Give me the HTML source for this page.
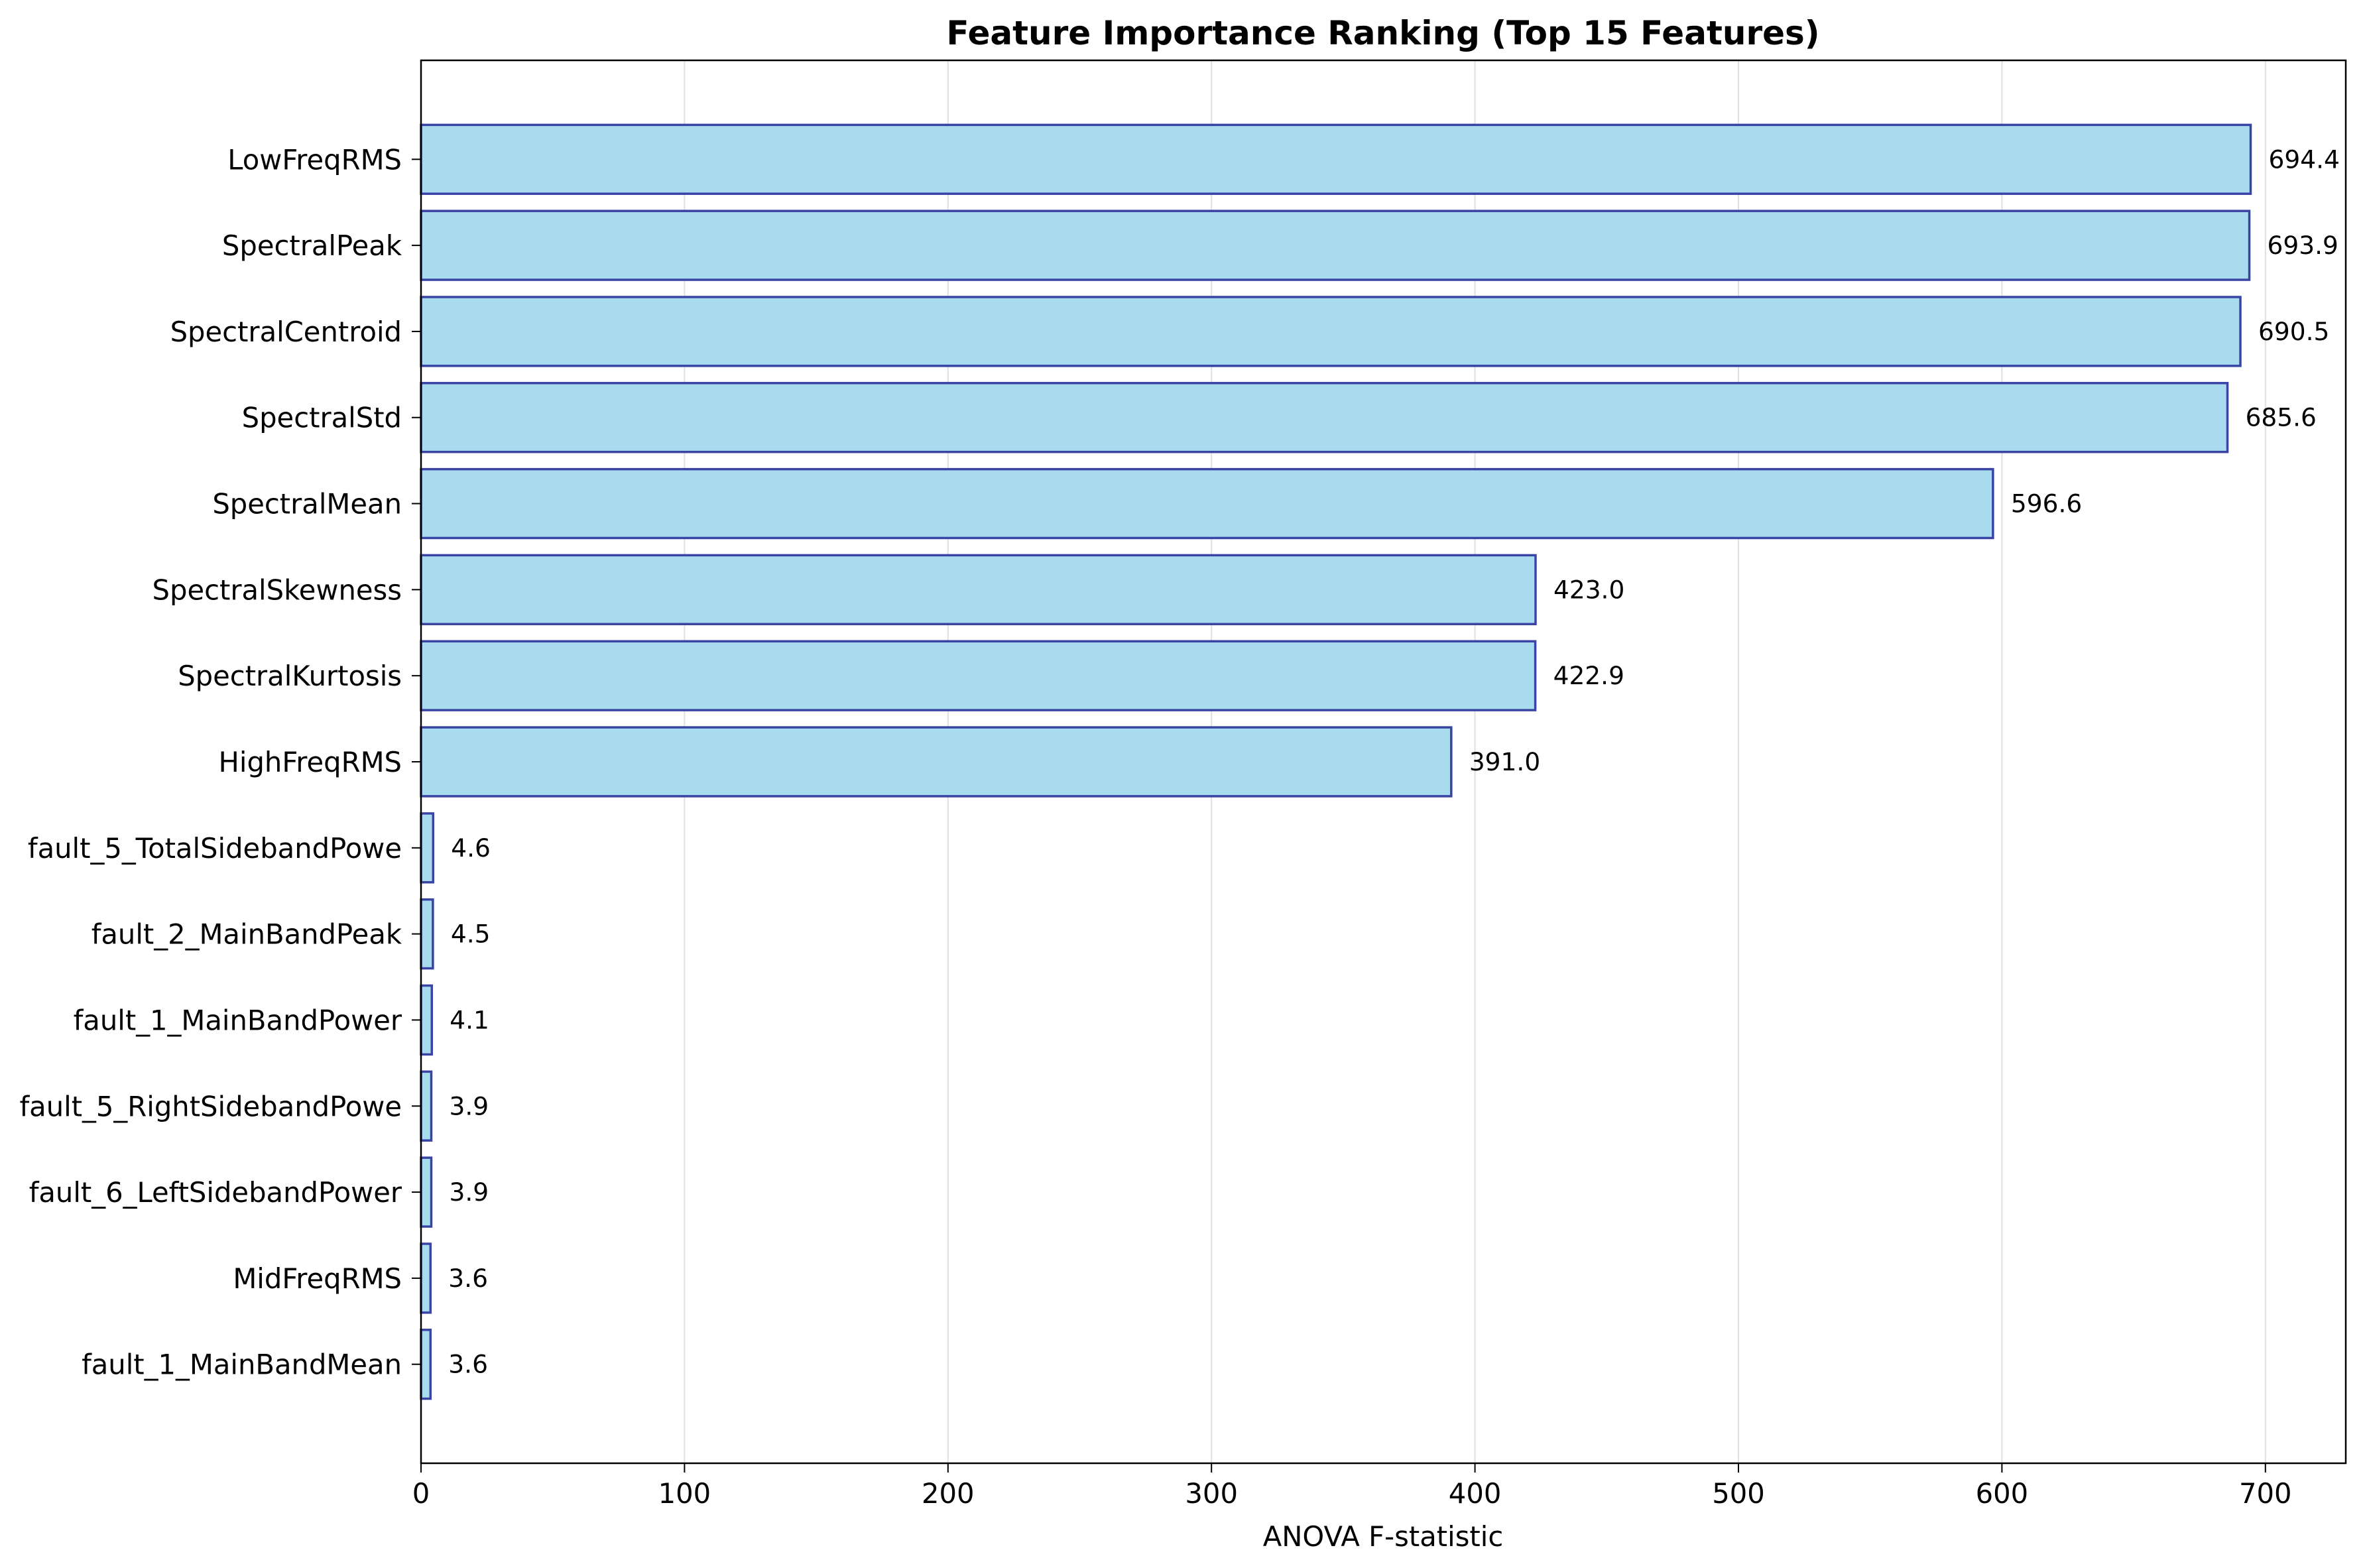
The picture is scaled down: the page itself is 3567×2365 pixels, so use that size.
<!DOCTYPE html>
<html><head><meta charset="utf-8"><style>
html,body{margin:0;padding:0;background:#fff;}
svg{display:block;font-family:"DejaVu Sans","Liberation Sans",sans-serif;}
</style></head><body>
<svg id="chart" width="3567" height="2365" viewBox="0 0 3567 2365" xmlns="http://www.w3.org/2000/svg">
<rect width="3567" height="2365" fill="#fff"/>
<text x="2086" y="67" text-anchor="middle" font-size="50" font-weight="bold">Feature Importance Ranking (Top 15 Features)</text>
<g id="grid"></g><g id="bars"></g><g id="yticks"></g><g id="xticks"></g>
<rect x="635" y="91" width="2903" height="2116" fill="none" stroke="#000" stroke-width="2.5"/>
<text x="2086" y="2332" text-anchor="middle" font-size="41.7">ANOVA F-statistic</text>
</svg>
<script>
const features = ["LowFreqRMS","SpectralPeak","SpectralCentroid","SpectralStd","SpectralMean","SpectralSkewness","SpectralKurtosis","HighFreqRMS","fault_5_TotalSidebandPowe","fault_2_MainBandPeak","fault_1_MainBandPower","fault_5_RightSidebandPowe","fault_6_LeftSidebandPower","MidFreqRMS","fault_1_MainBandMean"];
const values = [694.4,693.9,690.5,685.6,596.6,423.0,422.9,391.0,4.6,4.5,4.1,3.9,3.9,3.6,3.6];
const xTicks = [0,100,200,300,400,500,600,700];
const NS="http://www.w3.org/2000/svg";
const L=635,R=3538,T=91,B=2207,XMAX=730.5;
const n=features.length;
const yMin=-1.15, yMax=n-1+1.15;
function xs(v){return L+(v/XMAX)*(R-L);}
function ys(i){return T+(i-yMin)/(yMax-yMin)*(B-T);}
const bh=0.8*(B-T)/(yMax-yMin);
function mk(tag,attrs,parent){const e=document.createElementNS(NS,tag);for(const k in attrs)e.setAttribute(k,attrs[k]);document.getElementById(parent).appendChild(e);return e;}
xTicks.forEach(t=>{
  const g=mk('line',{x1:xs(t),x2:xs(t),y1:T,y2:B,stroke:'#e0e0e0','stroke-width':2},'grid');
  
  
  const tk=mk('line',{x1:xs(t),x2:xs(t),y1:B,y2:B+14,stroke:'#000','stroke-width':2},'xticks');
  
  
  const tl=mk('text',{x:xs(t),y:B+60,'text-anchor':'middle','font-size':41.7},'xticks');
  tl.textContent=t;
  
  
});
features.forEach((f,i)=>{
  const cy=ys(i),v=values[i];
  const r=mk('rect',{x:xs(0),y:cy-bh/2,width:xs(v)-xs(0),height:bh,fill:'#a8dbee',stroke:'#3a44a4','stroke-width':3.5},'bars');
  
  
  const vt=mk('text',{x:xs(v)+27,y:cy+13,'font-size':37.5},'bars');
  vt.textContent=v.toFixed(1);
  
  
  const tk=mk('line',{x1:L-14,x2:L,y1:cy,y2:cy,stroke:'#000','stroke-width':2},'yticks');
  
  
  const yl=mk('text',{x:L-29,y:cy+15,'text-anchor':'end','font-size':41.7},'yticks');
  yl.textContent=f;
  
  
});
</script>
</body></html>
